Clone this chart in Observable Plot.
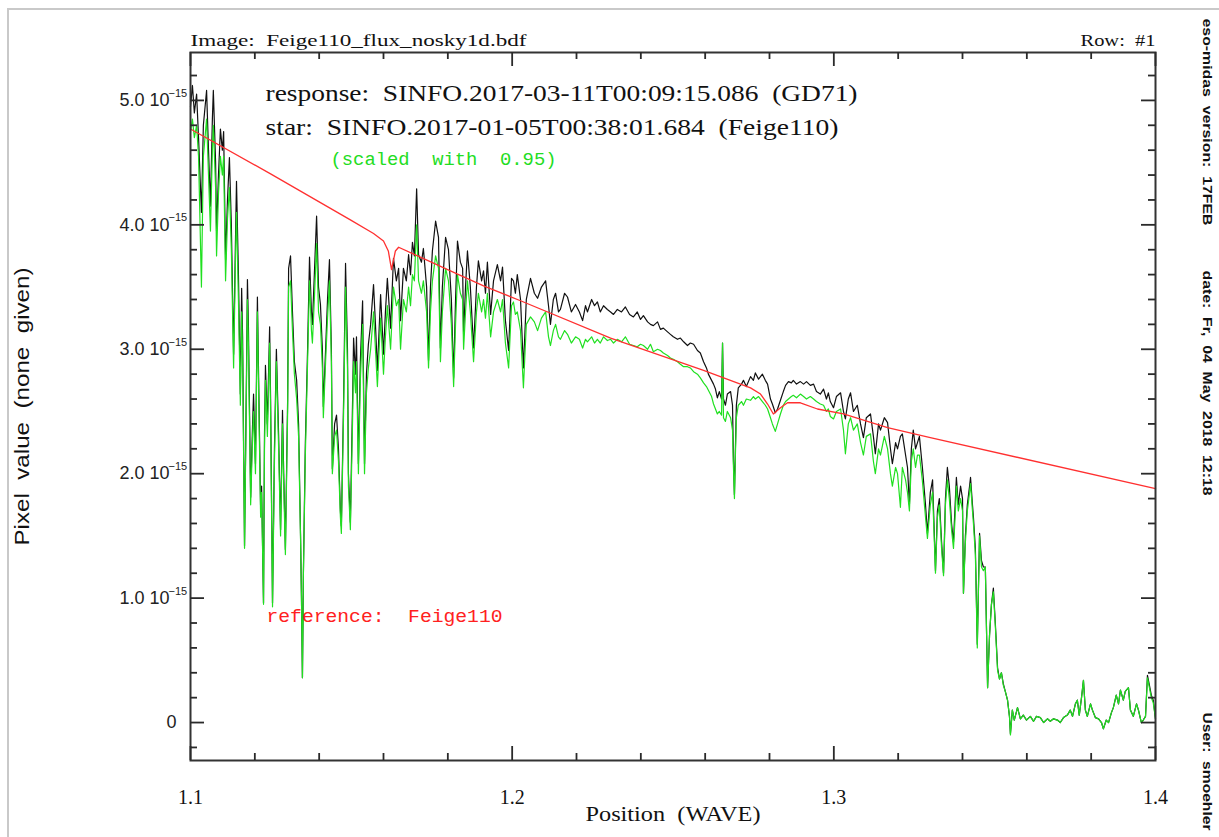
<!DOCTYPE html>
<html><head><meta charset="utf-8">
<script src="https://cdn.jsdelivr.net/npm/d3@7"></script>
<script src="https://cdn.jsdelivr.net/npm/@observablehq/plot@0.6"></script>
<style>
html,body{margin:0;padding:0;background:#fff;overflow:hidden;}
#wrap{position:relative;width:1219px;height:837px;}
#border{position:absolute;left:7px;top:8px;width:1300px;height:900px;border-top:2px solid #c9c9c9;border-left:2px solid #c9c9c9;pointer-events:none;z-index:2;}
svg text{white-space:pre;}
</style></head><body><div id="wrap"><div id="border"></div></div>
<script>
// wavelength grid (microns) shared by the two observed spectra
const wave = [
1.1000,1.1006,1.1012,1.1019,1.1025,1.1034,1.1040,1.1050,1.1056,1.1062,
1.1068,1.1071,1.1078,1.1081,1.1087,1.1093,1.1099,1.1103,1.1109,1.1115,
1.1121,1.1127,1.1134,1.1140,1.1143,1.1149,1.1155,1.1159,1.1162,1.1168,
1.1174,1.1177,1.1180,1.1187,1.1193,1.1196,1.1202,1.1208,1.1211,1.1218,
1.1221,1.1227,1.1230,1.1233,1.1239,1.1246,1.1249,1.1255,1.1261,1.1267,
1.1274,1.1280,1.1286,1.1289,1.1295,1.1302,1.1305,1.1311,1.1317,1.1323,
1.1330,1.1336,1.1342,1.1345,1.1348,1.1351,1.1357,1.1364,1.1370,1.1376,
1.1379,1.1385,1.1392,1.1398,1.1404,1.1410,1.1413,1.1420,1.1426,1.1432,
1.1438,1.1441,1.1448,1.1454,1.1460,1.1466,1.1469,1.1476,1.1482,1.1488,
1.1491,1.1497,1.1504,1.1507,1.1513,1.1516,1.1522,1.1528,1.1535,1.1541,
1.1547,1.1553,1.1560,1.1569,1.1575,1.1581,1.1591,1.1600,1.1606,1.1612,
1.1622,1.1631,1.1640,1.1647,1.1653,1.1662,1.1671,1.1678,1.1684,1.1690,
1.1696,1.1703,1.1709,1.1718,1.1724,1.1734,1.1740,1.1746,1.1752,1.1762,
1.1771,1.1777,1.1783,1.1793,1.1802,1.1811,1.1818,1.1824,1.1830,1.1839,
1.1846,1.1849,1.1855,1.1861,1.1870,1.1880,1.1889,1.1895,1.1905,1.1911,
1.1917,1.1923,1.1933,1.1942,1.1954,1.1964,1.1970,1.1979,1.1989,1.1998,
1.2004,1.2010,1.2016,1.2026,1.2035,1.2044,1.2057,1.2069,1.2079,1.2091,
1.2104,1.2113,1.2119,1.2128,1.2135,1.2144,1.2150,1.2163,1.2172,1.2184,
1.2197,1.2209,1.2219,1.2228,1.2234,1.2247,1.2256,1.2265,1.2274,1.2284,
1.2296,1.2306,1.2315,1.2327,1.2340,1.2352,1.2365,1.2377,1.2389,1.2399,
1.2408,1.2421,1.2430,1.2439,1.2452,1.2461,1.2470,1.2483,1.2492,1.2501,
1.2514,1.2523,1.2533,1.2545,1.2554,1.2564,1.2576,1.2585,1.2595,1.2604,
1.2610,1.2620,1.2626,1.2632,1.2638,1.2644,1.2651,1.2654,1.2657,1.2663,
1.2669,1.2679,1.2685,1.2688,1.2691,1.2694,1.2697,1.2703,1.2713,1.2719,
1.2728,1.2741,1.2750,1.2756,1.2766,1.2778,1.2787,1.2794,1.2803,1.2809,
1.2818,1.2825,1.2834,1.2843,1.2850,1.2859,1.2868,1.2874,1.2884,1.2896,
1.2906,1.2915,1.2927,1.2937,1.2946,1.2958,1.2968,1.2977,1.2983,1.2989,
1.2999,1.3008,1.3021,1.3030,1.3036,1.3045,1.3052,1.3061,1.3073,1.3083,
1.3092,1.3101,1.3114,1.3123,1.3129,1.3139,1.3145,1.3157,1.3167,1.3176,
1.3182,1.3192,1.3198,1.3207,1.3213,1.3223,1.3229,1.3235,1.3241,1.3247,
1.3254,1.3260,1.3266,1.3275,1.3285,1.3291,1.3300,1.3307,1.3316,1.3322,
1.3328,1.3335,1.3341,1.3347,1.3353,1.3359,1.3366,1.3372,1.3378,1.3381,
1.3387,1.3394,1.3400,1.3403,1.3409,1.3415,1.3422,1.3425,1.3431,1.3434,
1.3440,1.3446,1.3453,1.3459,1.3465,1.3471,1.3478,1.3484,1.3490,1.3496,
1.3502,1.3509,1.3515,1.3521,1.3527,1.3533,1.3540,1.3546,1.3549,1.3555,
1.3561,1.3571,1.3580,1.3589,1.3599,1.3611,1.3621,1.3630,1.3642,1.3652,
1.3664,1.3673,1.3683,1.3695,1.3704,1.3714,1.3726,1.3735,1.3742,1.3751,
1.3757,1.3763,1.3770,1.3776,1.3782,1.3788,1.3798,1.3804,1.3813,1.3823,
1.3832,1.3838,1.3847,1.3854,1.3863,1.3869,1.3878,1.3885,1.3891,1.3900,
1.3906,1.3916,1.3922,1.3931,1.3941,1.3947,1.3956,1.3962,1.3969,1.3975,
1.3981,1.3987,1.3993,1.4000];
// star spectrum (black), units of 1e-15
const blackFlux = [
4.95,5.12,4.90,5.05,4.70,4.10,4.80,5.08,4.60,4.15,
4.85,5.08,4.50,3.95,4.40,4.77,4.60,4.75,3.72,4.20,
4.54,4.00,2.96,3.90,4.35,3.60,2.64,3.49,3.10,1.42,
2.80,3.56,3.20,1.81,2.40,2.64,2.08,3.42,2.90,1.72,
1.90,0.96,2.30,2.87,2.40,3.18,2.60,0.96,2.20,3.00,
2.30,1.55,2.51,2.10,1.39,2.60,3.65,3.75,3.30,2.90,
2.75,2.40,1.52,1.00,0.36,1.20,2.24,3.00,3.74,3.30,
3.20,3.60,4.07,3.50,3.36,3.00,2.54,3.00,3.40,3.72,
3.00,2.04,2.40,2.47,2.20,1.70,1.58,2.60,3.69,3.00,
2.00,1.61,2.60,3.09,2.80,3.10,2.08,2.90,3.39,2.08,
2.80,3.04,3.20,3.52,3.20,2.83,3.44,2.96,3.30,3.57,
3.17,3.73,3.55,3.65,3.23,3.65,3.55,3.76,3.60,3.86,
3.75,4.29,3.76,3.70,3.81,3.50,2.91,3.50,3.79,4.03,
3.90,3.01,3.50,3.90,3.80,3.40,2.77,3.40,3.87,3.70,
3.65,3.12,3.50,3.79,3.50,3.01,3.50,3.71,3.55,3.63,
3.45,3.70,3.28,3.55,3.68,3.55,3.66,3.23,2.99,3.57,
3.55,3.45,3.60,3.40,2.85,3.40,3.57,3.45,3.41,3.50,
3.55,3.35,3.20,3.40,3.45,3.30,3.32,3.45,3.42,3.30,
3.36,3.30,3.23,3.35,3.30,3.40,3.35,3.38,3.30,3.35,
3.32,3.30,3.28,3.32,3.30,3.34,3.28,3.26,3.30,3.24,
3.27,3.22,3.20,3.19,3.22,3.16,3.17,3.14,3.12,3.10,
3.08,3.09,3.06,3.03,3.05,3.04,2.99,2.97,2.90,2.85,
2.80,2.75,2.72,2.68,2.61,2.66,2.60,3.05,2.60,2.55,
2.64,2.66,2.55,2.10,1.83,2.20,2.55,2.69,2.72,2.75,
2.70,2.78,2.75,2.81,2.76,2.80,2.75,2.72,2.60,2.56,
2.49,2.52,2.59,2.66,2.71,2.74,2.73,2.75,2.72,2.74,
2.72,2.74,2.71,2.72,2.66,2.64,2.68,2.60,2.65,2.58,
2.53,2.62,2.65,2.50,2.44,2.60,2.65,2.50,2.55,2.40,
2.29,2.45,2.48,2.30,2.16,2.40,2.35,2.45,2.41,2.20,
2.08,2.25,2.20,2.30,2.32,2.15,2.05,1.75,2.20,2.35,
2.20,2.25,2.30,2.06,1.75,1.52,1.85,1.95,1.22,1.70,
1.80,1.45,1.20,1.80,2.05,1.90,1.60,1.45,1.80,1.97,
1.75,1.90,1.80,1.04,1.50,1.75,1.90,1.97,1.75,1.65,
1.40,0.63,1.52,1.30,1.25,1.25,0.28,0.70,0.95,1.08,
0.80,0.44,0.35,0.40,0.31,0.25,0.18,0.05,-0.09,0.10,
0.02,0.12,0.03,0.06,0.02,0.05,0.01,0.05,0.04,0.00,
0.03,0.01,0.03,0.02,0.00,0.04,0.06,0.10,0.05,0.15,
0.18,0.06,0.20,0.34,0.10,0.05,0.15,0.10,0.04,0.03,
0.00,-0.05,0.02,0.00,0.08,0.12,0.22,0.15,0.26,0.18,
0.25,0.28,0.10,0.05,0.15,0.10,0.00,0.02,0.05,0.38,
0.30,0.22,0.18,0.03];
// scaled star spectrum (green), units of 1e-15
const greenFlux = [
4.75,4.85,4.70,4.80,4.55,3.50,4.55,4.85,4.40,3.95,
4.60,4.80,4.30,3.75,4.25,4.55,4.40,4.55,3.55,4.05,
4.30,3.80,2.85,3.75,4.10,3.40,2.55,3.30,2.95,1.40,
2.70,3.40,3.05,1.75,2.30,2.50,2.00,3.30,2.80,1.65,
1.85,0.95,2.20,2.75,2.30,3.05,2.50,0.93,2.10,2.90,
2.20,1.50,2.40,2.00,1.35,2.50,3.50,3.55,3.15,2.80,
2.60,2.30,1.50,1.00,0.36,1.20,2.15,2.90,3.55,3.15,
3.05,3.40,3.85,3.30,3.20,2.85,2.45,2.90,3.25,3.55,
2.90,2.00,2.30,2.35,2.10,1.65,1.52,2.50,3.50,2.85,
1.90,1.55,2.45,2.90,2.65,2.90,2.00,2.75,3.20,2.00,
2.65,2.85,3.00,3.30,3.00,2.70,3.25,2.80,3.10,3.35,
3.00,3.50,3.35,3.40,3.00,3.40,3.30,3.50,3.35,3.60,
3.55,4.00,3.55,3.45,3.55,3.30,2.85,3.30,3.55,3.75,
3.65,2.90,3.30,3.65,3.55,3.20,2.70,3.20,3.60,3.45,
3.40,3.00,3.30,3.55,3.30,2.90,3.30,3.45,3.30,3.40,
3.25,3.45,3.10,3.30,3.40,3.30,3.40,3.05,2.85,3.35,
3.38,3.28,3.30,3.15,2.69,3.20,3.26,3.22,3.15,3.25,
3.30,3.10,3.03,3.15,3.20,3.10,3.08,3.15,3.12,3.05,
3.10,3.08,3.01,3.08,3.06,3.10,3.05,3.08,3.05,3.10,
3.07,3.08,3.05,3.08,3.06,3.10,3.04,3.03,3.02,3.04,
3.03,3.00,3.04,2.98,3.00,2.99,2.97,2.95,2.93,2.92,
2.90,2.88,2.86,2.86,2.85,2.82,2.80,2.77,2.73,2.70,
2.67,2.62,2.56,2.52,2.48,2.50,2.47,3.05,2.45,2.42,
2.50,2.45,2.35,2.05,1.80,2.15,2.45,2.55,2.58,2.55,
2.60,2.59,2.62,2.60,2.62,2.58,2.55,2.52,2.45,2.40,
2.34,2.40,2.48,2.55,2.58,2.60,2.62,2.63,2.61,2.64,
2.62,2.60,2.62,2.60,2.58,2.56,2.55,2.50,2.52,2.46,
2.44,2.50,2.52,2.35,2.16,2.40,2.45,2.35,2.40,2.25,
2.15,2.30,2.32,2.10,2.00,2.20,2.15,2.30,2.20,2.00,
1.90,2.05,2.00,1.73,2.05,1.95,1.85,1.70,2.10,2.20,
2.05,2.15,2.15,1.95,1.65,1.48,1.75,1.85,1.20,1.65,
1.75,1.40,1.18,1.75,1.95,1.80,1.55,1.40,1.70,1.90,
1.70,1.80,1.70,1.04,1.45,1.70,1.85,1.92,1.70,1.60,
1.35,0.60,1.50,1.25,1.22,1.25,0.28,0.70,0.95,1.05,
0.78,0.42,0.35,0.40,0.30,0.25,0.18,0.05,-0.10,0.10,
0.02,0.12,0.03,0.06,0.02,0.05,0.01,0.05,0.04,0.00,
0.03,0.01,0.03,0.02,0.00,0.04,0.06,0.10,0.05,0.15,
0.18,0.06,0.20,0.34,0.10,0.05,0.15,0.10,0.04,0.03,
0.00,-0.05,0.02,0.00,0.08,0.12,0.22,0.15,0.26,0.18,
0.25,0.28,0.10,0.05,0.15,0.10,0.00,0.02,0.05,0.36,
0.28,0.20,0.16,0.03];
// reference Feige110 model (red)
const refWave = [1.1000,1.1249,1.1497,1.1569,1.1600,1.1615,1.1625,1.1637,1.1647,1.1706,1.1808,1.1911,1.2026,1.2306,1.2595,1.2741,1.2772,1.2794,1.2812,1.2834,1.2856,1.2896,1.2949,1.3030,1.3167,1.3300,1.4000];
const refFlux = [4.77,4.41,4.04,3.93,3.87,3.79,3.64,3.79,3.82,3.75,3.63,3.51,3.39,3.09,2.83,2.69,2.64,2.56,2.48,2.53,2.57,2.57,2.52,2.48,2.37,2.29,1.88];

const xMajor = [1.1, 1.2, 1.3, 1.4];
const xMinor = [1.12,1.14,1.16,1.18,1.22,1.24,1.26,1.28,1.32,1.34,1.36,1.38];
const yMajor = [0, 1, 2, 3, 4, 5];
const yMinor = [-0.2,0.2,0.4,0.6,0.8,1.2,1.4,1.6,1.8,2.2,2.4,2.6,2.8,3.2,3.4,3.6,3.8,4.2,4.4,4.6,4.8,5.2];
const yScaled = [1, 2, 3, 4, 5];
const yScaledMantissa = ["1.0","2.0","3.0","4.0","5.0"];
const yZero = [0];
const yZeroLabel = "0";
const yExpBase = "10";
const yExponent = "\u221215";
const xLabels = ["1.1","1.2","1.3","1.4"];

const titleLeft = "Image:  Feige110_flux_nosky1d.bdf";
const titleRight = "Row:  #1";
const xTitle = "Position  (WAVE)";
const yTitle = "Pixel  value  (none  given)";
const noteResponse = "response:  SINFO.2017-03-11T00:09:15.086  (GD71)";
const noteStar = "star:  SINFO.2017-01-05T00:38:01.684  (Feige110)";
const noteScaled = "(scaled  with  0.95)";
const noteRef = "reference:  Feige110";
const sideTexts = ["eso-midas  version:  17FEB", "date:  Fr,  04  May  2018  12:18", "User:  smoehler"];

const spectrum = wave.map((w, i) => ({w, black: blackFlux[i], green: greenFlux[i]}));
const reference = refWave.map((w, i) => ({w, f: refFlux[i]}));

const W = 1219, H = 837, ML = 190, MR = 64, MT = 52, MB = 77;
const PW = W - ML - MR, PH = H - MT - MB;
const X0 = 1.1, X1 = 1.4, Y0 = -0.305, Y1 = 5.385;
const xpp = (X1 - X0) / PW, ypp = (Y1 - Y0) / PH; // data units per pixel, for tick lengths
const AX = "#333";
const tk = {stroke: "#2a2a2a", strokeWidth: 1.8};
const tickB = (data, len) => Plot.ruleX(data, {x: d => d, y1: () => Y0, y2: () => Y0 + len * ypp, ...tk});
const tickT = (data, len) => Plot.ruleX(data, {x: d => d, y1: () => Y1, y2: () => Y1 - len * ypp, ...tk});
const tickL = (data, len) => Plot.ruleY(data, {y: d => d, x1: () => X0, x2: () => X0 + len * xpp, ...tk});
const tickR = (data, len) => Plot.ruleY(data, {y: d => d, x1: () => X1, x2: () => X1 - len * xpp, ...tk});
const TX = {lineAnchor: "middle", fill: "#111"};
const sideFont = {fontSize: 13, fontWeight: "bold", fontFamily: "Liberation Sans Narrow, Liberation Sans"};
const sansLbl = {fontFamily: "Liberation Sans", lineAnchor: "middle", fill: "#222"};

const chart = Plot.plot({
  width: W, height: H,
  marginLeft: ML, marginRight: MR, marginTop: MT, marginBottom: MB,
  x: {domain: [X0, X1], axis: null},
  y: {domain: [Y0, Y1], axis: null},
  style: {background: "white", fontFamily: "Liberation Serif", color: "#111"},
  marks: [
    Plot.line(spectrum, {x: "w", y: "black", stroke: "#111", strokeWidth: 1.2}),
    Plot.line(spectrum, {x: "w", y: "green", stroke: "#20e020", strokeWidth: 1.2}),
    Plot.line(reference, {x: "w", y: "f", stroke: "#ff3030", strokeWidth: 1.3}),
    Plot.frame({stroke: AX, strokeWidth: 2}),
    Plot.text(xMajor, {x: d => d, frameAnchor: "bottom", dy: 37, text: (d, i) => xLabels[i], fontSize: 20, ...TX}),
    Plot.text(yScaled, {y: d => d, frameAnchor: "left", dx: -46, textAnchor: "end", text: (d, i) => yScaledMantissa[i], fontSize: 18, ...sansLbl}),
    Plot.text(yZero, {y: d => d, frameAnchor: "left", dx: -14, textAnchor: "end", text: () => yZeroLabel, fontSize: 18, ...sansLbl}),
    Plot.text(yScaled, {y: d => d, frameAnchor: "left", dx: -41, textAnchor: "start", text: () => yExpBase, fontSize: 18, ...sansLbl}),
    Plot.text(yScaled, {y: d => d, frameAnchor: "left", dx: -22, dy: -7, textAnchor: "start", text: () => yExponent, fontSize: 11, ...sansLbl}),
    Plot.text([xTitle], {frameAnchor: "bottom", dy: 53, textAnchor: "middle", text: d => d, fontSize: 22, ...TX}),
    Plot.text([yTitle], {frameAnchor: "left", dx: -168, rotate: -90, textAnchor: "middle", text: d => d, fontSize: 21, fontFamily: "Liberation Sans", ...TX}),
    Plot.text([titleLeft], {frameAnchor: "top-left", dy: -12, textAnchor: "start", text: d => d, fontSize: 17, ...TX}),
    Plot.text([titleRight], {frameAnchor: "top-right", dy: -12, textAnchor: "end", text: d => d, fontSize: 17, ...TX}),
    Plot.text([noteResponse], {frameAnchor: "top-left", dx: 75, dy: 41, textAnchor: "start", text: d => d, fontSize: 23, ...TX}),
    Plot.text([noteStar], {frameAnchor: "top-left", dx: 75, dy: 75, textAnchor: "start", text: d => d, fontSize: 23, ...TX}),
    Plot.text([noteScaled], {frameAnchor: "top-left", dx: 140, dy: 106, textAnchor: "start", text: d => d, fontSize: 19, fontFamily: "Liberation Mono", ...TX, fill: "#22dd22"}),
    Plot.text([noteRef], {frameAnchor: "top-left", dx: 76, dy: 563, textAnchor: "start", text: d => d, fontSize: 19, fontFamily: "Liberation Mono", ...TX, fill: "#ff2020"}),
    Plot.text([sideTexts[0]], {frameAnchor: "top-right", dx: 52, dy: -34, rotate: 90, textAnchor: "start", text: d => d, ...sideFont, ...TX}),
    Plot.text([sideTexts[1]], {frameAnchor: "top-right", dx: 52, dy: 218, rotate: 90, textAnchor: "start", text: d => d, ...sideFont, ...TX}),
    Plot.text([sideTexts[2]], {frameAnchor: "top-right", dx: 52, dy: 660, rotate: 90, textAnchor: "start", text: d => d, ...sideFont, ...TX}),
    tickB(xMajor, 14), tickB(xMinor, 7), tickT(xMajor, 14), tickT(xMinor, 7),
    tickL(yMajor, 14), tickL(yMinor, 7), tickR(yMajor, 14), tickR(yMinor, 7)
  ]
});

function fit(str, len) {
  d3.select(chart).selectAll("text").filter(function () { return this.textContent === str; })
    .attr("textLength", len).attr("lengthAdjust", "spacingAndGlyphs");
}
fit(noteResponse, 592); fit(noteStar, 573); fit(noteScaled, 226); fit(noteRef, 236);
fit(titleLeft, 336); fit(titleRight, 75); fit(yTitle, 278); fit(xTitle, 175);
fit(sideTexts[0], 207); fit(sideTexts[1], 225); fit(sideTexts[2], 118);
d3.select(chart).selectAll('g[aria-label="rule"]').raise();

document.getElementById("wrap").prepend(chart);
</script>
</body></html>
